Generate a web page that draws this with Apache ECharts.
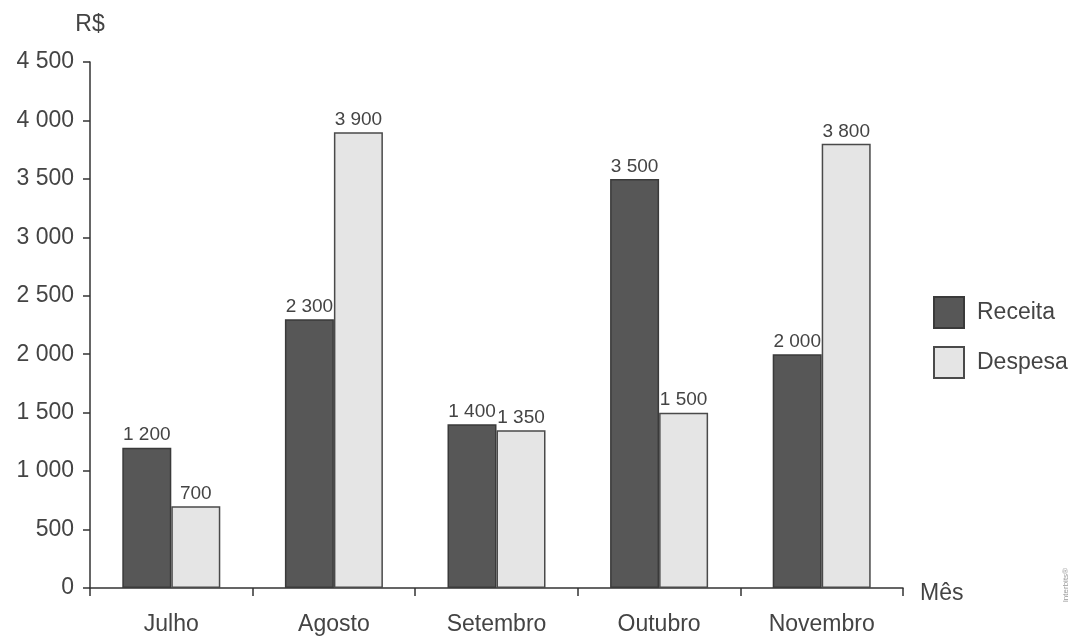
<!DOCTYPE html>
<html>
<head>
<meta charset="utf-8">
<script src="https://cdn.jsdelivr.net/npm/echarts@6/dist/echarts.min.js"></script>
<style>
  html, body { margin: 0; padding: 0; background: #fff; }
  #chart { width: 1076px; height: 637px; }
</style>
</head>
<body>
<div id="chart"></div>
<script>
var meses = ['Julho', 'Agosto', 'Setembro', 'Outubro', 'Novembro'];
var receita = [1200, 2300, 1400, 3500, 2000];
var despesa = [700, 3900, 1350, 1500, 3800];

// milhar separado por espaço
function fmt(v) {
    return String(v).replace(/\B(?=(\d{3})+(?!\d))/g, ' ');
}

var myChart = echarts.init(document.getElementById('chart'));
var textColor = '#444';
var lineColor = '#333';

var option = {
    animation: false,
    textStyle: { fontFamily: 'Liberation Sans, Arial, sans-serif' },
    grid: { left: 90, right: 173, top: 62, bottom: 49, outerBoundsMode: 'none', containLabel: false },
    legend: {
        orient: 'vertical',
        left: 928,
        top: 291,
        itemWidth: 30,
        itemHeight: 31,
        itemGap: 17,
        icon: 'rect',
        textStyle: { fontSize: 23, color: textColor, padding: [0, 0, 0, 8] },
        data: ['Receita', 'Despesa']
    },
    xAxis: {
        type: 'category',
        data: meses,
        name: 'Mês',
        nameLocation: 'end',
        nameGap: 17,
        nameTextStyle: { fontSize: 23, color: textColor, verticalAlign: 'top', lineHeight: 12 },
        axisLine: { lineStyle: { color: lineColor, width: 1.5 } },
        axisTick: { show: true, inside: false, length: 8, alignWithLabel: false, lineStyle: { color: lineColor, width: 1.5 } },
        axisLabel: { fontSize: 23, color: textColor, margin: 25 }
    },
    yAxis: {
        type: 'value',
        min: 0,
        max: 4500,
        interval: 500,
        name: 'R$',
        nameLocation: 'end',
        nameGap: 26,
        nameTextStyle: { fontSize: 23, color: textColor, align: 'center' },
        splitLine: { show: false },
        axisLine: { show: true, lineStyle: { color: lineColor, width: 1.5 } },
        axisTick: { show: true, length: 7, lineStyle: { color: lineColor, width: 1.5 } },
        axisLabel: { fontSize: 23, color: textColor, margin: 16, formatter: fmt }
    },
    series: [
        {
            name: 'Receita',
            type: 'bar',
            data: receita,
            barWidth: 49,
            barGap: '0%',
            itemStyle: { color: '#575757', borderColor: '#3a3a3a', borderWidth: 1.5 },
            label: { show: true, position: 'top', distance: 3, fontSize: 19, color: textColor, formatter: function (p) { return fmt(p.value); } }
        },
        {
            name: 'Despesa',
            type: 'bar',
            data: despesa,
            barWidth: 49,
            barGap: '0%',
            itemStyle: { color: '#e5e5e5', borderColor: '#4a4a4a', borderWidth: 1.5 },
            label: { show: true, position: 'top', distance: 3, fontSize: 19, color: textColor, formatter: function (p) { return fmt(p.value); } }
        }
    ],
    graphic: [{
        type: 'text',
        left: 1062,
        top: 568,
        rotation: Math.PI / 2,
        style: { text: 'Interbits®', fontSize: 8, fill: '#999' }
    }]
};

myChart.setOption(option);

window.addEventListener('resize', function () {
    myChart.resize();
});
</script>
</body>
</html>
